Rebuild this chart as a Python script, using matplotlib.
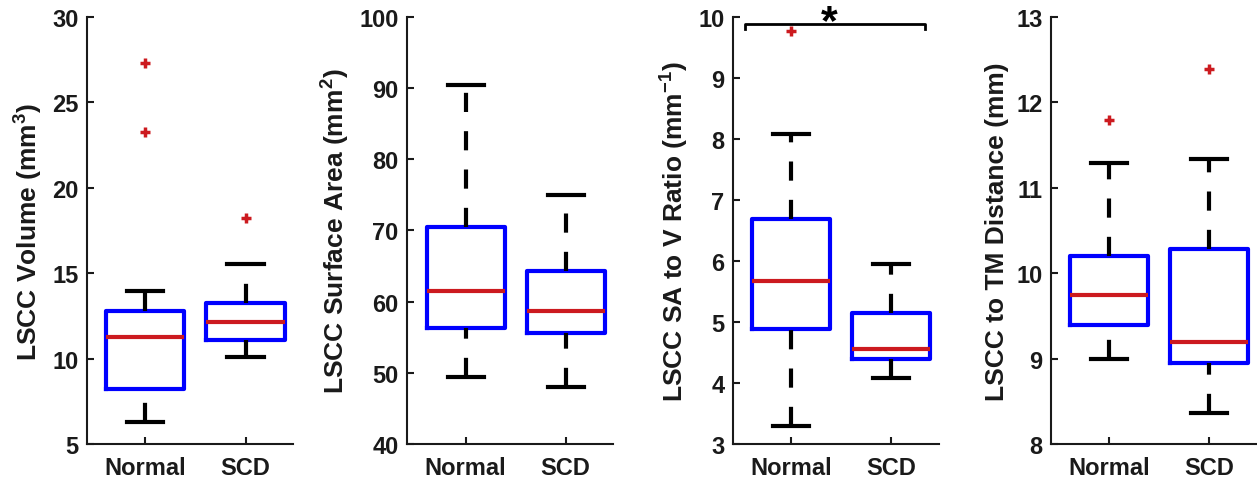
import numpy as np
import matplotlib
matplotlib.use('Agg')
import matplotlib.pyplot as plt

plt.rcParams.update({
    'font.family': ['Liberation Sans', 'DejaVu Sans'],
    'font.weight': 'bold',
    'mathtext.fontset': 'custom',
    'mathtext.rm': 'Liberation Sans:bold',
    'mathtext.bf': 'Liberation Sans:bold',
    'mathtext.default': 'bf',
})

# ------------------------------------------------------------
# Data: five-number summaries [whisker low, q1, median, q3, whisker high]
# ------------------------------------------------------------
groups = ['Normal', 'SCD']

volume_normal = [6.27, 8.22, 11.24, 12.76, 13.97]
volume_scd = [10.07, 11.06, 12.15, 13.28, 15.53]
volume_outliers = [[27.3, 23.25], [18.22]]

area_normal = [49.47, 56.27, 61.52, 70.43, 90.5]
area_scd = [48.06, 55.56, 58.75, 64.24, 74.93]
area_outliers = [[], []]

ratio_normal = [3.29, 4.88, 5.68, 6.69, 8.08]
ratio_scd = [4.08, 4.40, 4.56, 5.15, 5.95]
ratio_outliers = [[9.77], []]

dist_normal = [9.0, 9.39, 9.75, 10.2, 11.29]
dist_scd = [8.36, 8.95, 9.2, 10.28, 11.34]
dist_outliers = [[11.79], [12.39]]

ylabels = [r'LSCC Volume (mm$^{3}$)', r'LSCC Surface Area (mm$^{2}$)',
           r'LSCC SA to V Ratio (mm$^{-1}$)', 'LSCC to TM Distance (mm)']
ylims = [(5, 30), (40, 100), (3, 10), (8, 13)]
yticks = [np.arange(5, 31, 5), np.arange(40, 101, 10),
          np.arange(3, 11, 1), np.arange(8, 14, 1)]

panels = [
    (volume_normal, volume_scd, volume_outliers),
    (area_normal, area_scd, area_outliers),
    (ratio_normal, ratio_scd, ratio_outliers),
    (dist_normal, dist_scd, dist_outliers),
]

BLUE = '#0000ff'
RED = '#cc1a1f'
AX = '#1a1a1a'


def summary(five, out):
    lo, q1, med, q3, hi = five
    return dict(whislo=lo, q1=q1, med=med, q3=q3, whishi=hi,
                fliers=np.array(out, dtype=float))


fig = plt.figure(figsize=(12.57, 4.85), dpi=100)
lefts = [0.0692, 0.3238, 0.5831, 0.8361]

for i, (normal, scd, outliers) in enumerate(panels):
    ax = fig.add_axes([lefts[i], 0.0825, 0.1639, 0.8804])
    stats = [summary(normal, outliers[0]), summary(scd, outliers[1])]
    art = ax.bxp(stats, positions=[1, 2], widths=0.78, capwidths=0.36,
                 showfliers=True,
                 boxprops=dict(color=BLUE, lw=3),
                 medianprops=dict(color=RED, lw=3, solid_capstyle='butt'),
                 whiskerprops=dict(color='black', lw=3,
                                   linestyle=(0, (4.6, 4.6)),
                                   dash_capstyle='butt'),
                 capprops=dict(color='black', lw=3),
                 flierprops=dict(marker='+', markeredgecolor=RED,
                                 markersize=7, markeredgewidth=2.5))
    # lower whiskers: start the dash pattern at the cap
    for w in art['whiskers'][0::2]:
        w.set_ydata(w.get_ydata()[::-1])

    ax.set_xlim(0.415, 2.475)
    ax.set_ylim(*ylims[i])
    ax.set_yticks(yticks[i])
    ax.set_xticks([1, 2], groups)
    ax.set_ylabel(ylabels[i], fontsize=19, fontweight='bold', color=AX,
                  labelpad=5)

    for side in ['top', 'right']:
        ax.spines[side].set_visible(False)
    for side in ['left', 'bottom']:
        ax.spines[side].set_linewidth(1.5)
        ax.spines[side].set_color(AX)
    ax.tick_params(axis='both', direction='in', length=5, width=1.5,
                   labelsize=17, colors=AX)
    ax.tick_params(axis='x', pad=9)
    ax.tick_params(axis='y', pad=6)

    if i == 2:
        # significance bracket
        ax.plot([0.535, 0.535, 2.335, 2.335], [9.80, 9.885, 9.885, 9.80],
                color='black', lw=2, clip_on=False)
        ax.text(1.375, 9.73, '*', ha='center', va='baseline', fontsize=31,
                fontweight='bold', color='black', clip_on=False)

fig.savefig('out.png', dpi=100)
